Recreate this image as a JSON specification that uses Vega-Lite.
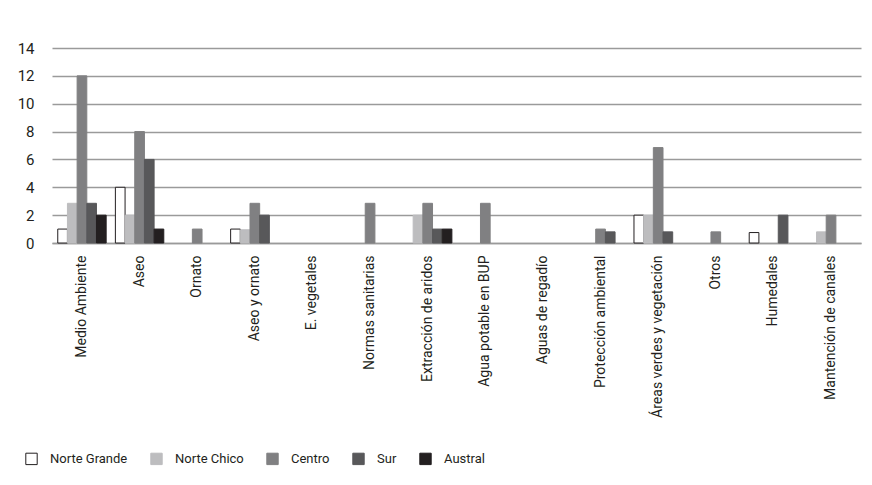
{
  "$schema": "https://vega.github.io/schema/vega-lite/v6.json",
  "autosize": {"type": "none"},
  "padding": {"left": 52, "top": 48, "right": 11, "bottom": 242},
  "width": 809,
  "height": 195,
  "background": "white",
  "config": {
    "view": {"stroke": null},
    "font": "Roboto",
    "axis": {"labelFont": "Roboto", "labelColor": "#231f20"},
    "legend": {"labelFont": "Roboto", "labelColor": "#231f20"}
  },
  "data": {
    "values": [
      {"categoria": "Medio Ambiente", "region": "Norte Grande", "valor": 1},
      {"categoria": "Medio Ambiente", "region": "Norte Chico", "valor": 2.85},
      {"categoria": "Medio Ambiente", "region": "Centro", "valor": 12},
      {"categoria": "Medio Ambiente", "region": "Sur", "valor": 2.85},
      {"categoria": "Medio Ambiente", "region": "Austral", "valor": 2},
      {"categoria": "Aseo", "region": "Norte Grande", "valor": 4},
      {"categoria": "Aseo", "region": "Norte Chico", "valor": 2},
      {"categoria": "Aseo", "region": "Centro", "valor": 8},
      {"categoria": "Aseo", "region": "Sur", "valor": 6},
      {"categoria": "Aseo", "region": "Austral", "valor": 1},
      {"categoria": "Ornato", "region": "Centro", "valor": 1},
      {"categoria": "Aseo y ornato", "region": "Norte Grande", "valor": 1},
      {"categoria": "Aseo y ornato", "region": "Norte Chico", "valor": 0.95},
      {"categoria": "Aseo y ornato", "region": "Centro", "valor": 2.85},
      {"categoria": "Aseo y ornato", "region": "Sur", "valor": 2},
      {"categoria": "Normas sanitarias", "region": "Centro", "valor": 2.85},
      {"categoria": "Extracción de aridos", "region": "Norte Chico", "valor": 2},
      {"categoria": "Extracción de aridos", "region": "Centro", "valor": 2.85},
      {"categoria": "Extracción de aridos", "region": "Sur", "valor": 1},
      {"categoria": "Extracción de aridos", "region": "Austral", "valor": 1},
      {"categoria": "Agua potable en BUP", "region": "Centro", "valor": 2.85},
      {"categoria": "Protección ambiental", "region": "Centro", "valor": 1},
      {"categoria": "Protección ambiental", "region": "Sur", "valor": 0.8},
      {"categoria": "Áreas verdes y vegetación", "region": "Norte Grande", "valor": 2},
      {"categoria": "Áreas verdes y vegetación", "region": "Norte Chico", "valor": 2},
      {"categoria": "Áreas verdes y vegetación", "region": "Centro", "valor": 6.85},
      {"categoria": "Áreas verdes y vegetación", "region": "Sur", "valor": 0.8},
      {"categoria": "Otros", "region": "Centro", "valor": 0.8},
      {"categoria": "Humedales", "region": "Norte Grande", "valor": 0.75},
      {"categoria": "Humedales", "region": "Sur", "valor": 2},
      {"categoria": "Mantención de canales", "region": "Norte Chico", "valor": 0.8},
      {"categoria": "Mantención de canales", "region": "Centro", "valor": 2}
    ]
  },
  "mark": {"type": "bar", "strokeWidth": 1},
  "encoding": {
    "x": {
      "field": "categoria",
      "type": "nominal",
      "sort": null,
      "scale": {
        "domain": ["Medio Ambiente", "Aseo", "Ornato", "Aseo y ornato", "E. vegetales", "Normas sanitarias", "Extracción de aridos", "Agua potable en BUP", "Aguas de regadío", "Protección ambiental", "Áreas verdes y vegetación", "Otros", "Humedales", "Mantención de canales"],
        "paddingInner": 0.16,
        "paddingOuter": 0.1
      },
      "axis": {
        "title": null,
        "labelAngle": -90,
        "labelAlign": "right",
        "labelBaseline": "middle",
        "labelFontSize": 14,
        "labelPadding": 12,
        "ticks": false,
        "domainColor": "#9a9a9a",
        "domainWidth": 1.5
      }
    },
    "xOffset": {
      "field": "region",
      "type": "nominal",
      "scale": {"domain": ["Norte Grande", "Norte Chico", "Centro", "Sur", "Austral"]}
    },
    "y": {
      "field": "valor",
      "type": "quantitative",
      "scale": {"domain": [0, 14]},
      "axis": {
        "title": null,
        "values": [0, 2, 4, 6, 8, 10, 12, 14],
        "labelFontSize": 15,
        "labelPadding": 18,
        "ticks": false,
        "domain": false,
        "gridColor": "#9a9a9a",
        "gridWidth": 1.5
      }
    },
    "fill": {
      "field": "region",
      "type": "nominal",
      "scale": {
        "domain": ["Norte Grande", "Norte Chico", "Centro", "Sur", "Austral"],
        "range": ["#ffffff", "#bdbdbf", "#808082", "#58585a", "#231f20"]
      },
      "legend": {
        "title": null,
        "orient": "none",
        "direction": "horizontal",
        "legendX": -27,
        "legendY": 404,
        "symbolType": "square",
        "symbolSize": 130,
        "symbolStrokeWidth": 1,
        "labelFontSize": 13,
        "labelOffset": 12,
        "columnPadding": 20
      }
    },
    "stroke": {
      "field": "region",
      "type": "nominal",
      "scale": {
        "domain": ["Norte Grande", "Norte Chico", "Centro", "Sur", "Austral"],
        "range": ["#231f20", "#bdbdbf", "#808082", "#58585a", "#231f20"]
      },
      "legend": null
    }
  }
}
